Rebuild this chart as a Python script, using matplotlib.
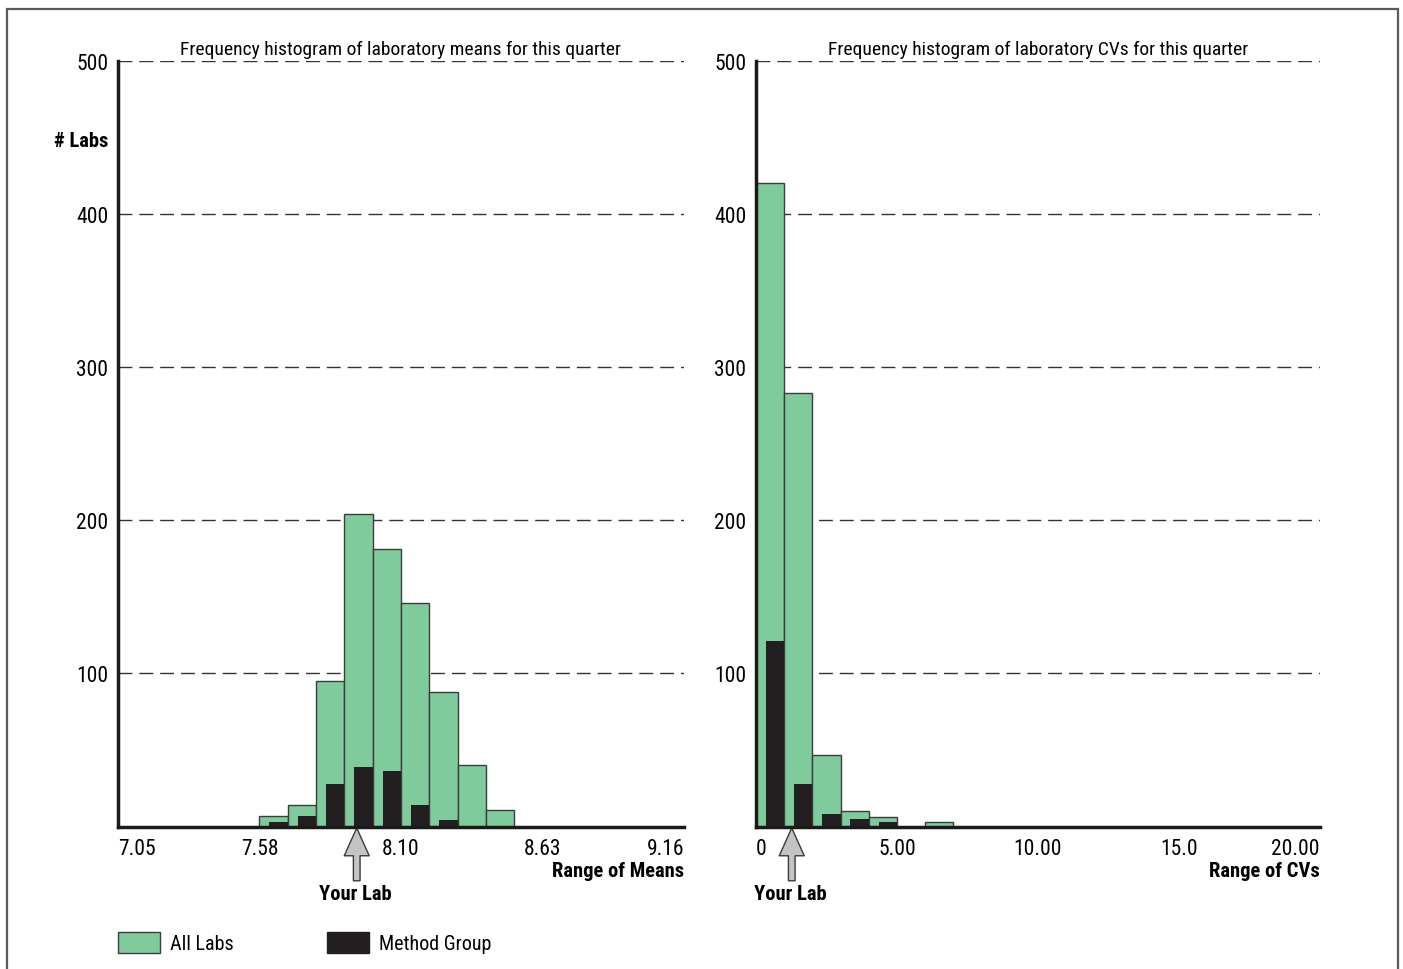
import numpy as np
import matplotlib
matplotlib.use("Agg")
import matplotlib.pyplot as plt
from matplotlib.patches import Patch, Rectangle

plt.rcParams['font.family'] = ['Roboto Condensed', 'Liberation Sans Narrow', 'Roboto', 'DejaVu Sans']

# === Datos ===
mean_range = (7.05, 9.16)
mean_ticklabels = ['7.05', '7.58', '8.10', '8.63', '9.16']
mean_all = [0, 0, 0, 0, 0, 7, 14, 95, 204, 181, 146, 88, 40, 11, 0, 0, 0, 0, 0, 0]
mean_method = [0, 0, 0, 0, 0, 3, 7, 28, 39, 36, 14, 4, 0, 0, 0, 0, 0, 0, 0, 0]
mean_your_lab = 7.94

cv_range = (0.0, 20.0)
cv_ticklabels = ['0', '5.00', '10.00', '15.0', '20.00']
cv_all = [420, 283, 47, 10, 6, 0, 3, 0, 0, 0, 0, 0, 0, 0, 0, 0, 0, 0, 0, 0]
cv_method = [121, 28, 8, 5, 3, 0, 0, 0, 0, 0, 0, 0, 0, 0, 0, 0, 0, 0, 0, 0]
cv_your_lab = 1.27

y_ticks = [100, 200, 300, 400, 500]

GREEN = '#80cb9b'
BLACK = '#231f20'
EDGE = '#3c3c3c'

fig = plt.figure(figsize=(14.03, 9.70), dpi=100)

# marco gris
fig.add_artist(Rectangle((0.005, -0.02), 0.9915, 1.0097, transform=fig.transFigure,
                         fill=False, edgecolor='#5a5a5a', linewidth=1.6))


def histograma(ax, rango, all_labs, method, ticklabels, your_lab, titulo, xlabel, ylabel=None):
    edges = np.linspace(rango[0], rango[1], len(all_labs) + 1)
    w = edges[1] - edges[0]
    for i, h in enumerate(all_labs):
        if h > 0:
            ax.bar(edges[i], h, width=w, align='edge', color=GREEN,
                   edgecolor=EDGE, linewidth=1.0, zorder=2)
    for i, h in enumerate(method):
        if h > 0:
            ax.bar(edges[i] + 0.35 * w, h, width=0.65 * w, align='edge',
                   color=BLACK, linewidth=0, zorder=3)

    for y in y_ticks:
        ax.axhline(y, color='#333333', linewidth=1.0, dashes=(10, 5), zorder=1)

    ax.set_xlim(*rango)
    ax.set_ylim(0, 500)
    for s in ['top', 'right']:
        ax.spines[s].set_visible(False)
    for s in ['left', 'bottom']:
        ax.spines[s].set_linewidth(2.5)
        ax.spines[s].set_color('#1a1a1a')
        ax.spines[s].set_zorder(5)

    ax.set_yticks(y_ticks)
    ax.set_yticklabels([str(y) for y in y_ticks], fontsize=15.5)
    ax.tick_params(axis='y', length=0, pad=7)

    ticks = np.linspace(rango[0], rango[1], len(ticklabels))
    ax.set_xticks(ticks)
    ax.set_xticklabels(ticklabels, fontsize=15.5)
    ax.tick_params(axis='x', length=0, pad=8.5)
    labs = ax.get_xticklabels()
    labs[0].set_ha('left')
    labs[-1].set_ha('right')

    ax.set_title(titulo, fontsize=14, pad=5)

    ax.annotate(xlabel, xy=(1, 0), xycoords='axes fraction', xytext=(0, -31.5),
                textcoords='offset points', ha='right', va='center',
                fontsize=14.8, fontweight='bold')
    if ylabel:
        ax.text(-0.0177, 448, ylabel, transform=ax.get_yaxis_transform(),
                ha='right', va='center', fontsize=14.8, fontweight='bold')

    # flecha "Your Lab"
    ax.annotate('', xy=(your_lab, 0), xycoords='data', xytext=(0, -39),
                textcoords='offset points', annotation_clip=False,
                arrowprops=dict(arrowstyle='simple,head_length=1.0,head_width=0.9,tail_width=0.24',
                                mutation_scale=20, facecolor='#c4c4c4', edgecolor='#3a3a3a',
                                linewidth=1.0, shrinkA=0, shrinkB=1))
    ax.annotate('Your Lab', xy=(your_lab, 0), xycoords='data', xytext=(-1, -48.5),
                textcoords='offset points', ha='center', va='center',
                fontsize=14.8, fontweight='bold', annotation_clip=False)


ax1 = fig.add_axes([0.0841, 0.1468, 0.4034, 0.7893])
ax2 = fig.add_axes([0.5388, 0.1468, 0.4020, 0.7893])

histograma(ax1, mean_range, mean_all, mean_method, mean_ticklabels, mean_your_lab,
           'Frequency histogram of laboratory means for this quarter', 'Range of Means', '# Labs')
histograma(ax2, cv_range, cv_all, cv_method, cv_ticklabels, cv_your_lab,
           'Frequency histogram of laboratory CVs for this quarter', 'Range of CVs')

handles = [Patch(facecolor=GREEN, edgecolor=EDGE, linewidth=1.0, label='All Labs'),
           Patch(facecolor=BLACK, edgecolor=BLACK, linewidth=1.0, label='Method Group')]
fig.legend(handles=handles, loc='lower left', bbox_to_anchor=(0.0841, 0.016), ncol=2,
           frameon=False, fontsize=14.5, handlelength=2.1, handleheight=1.2,
           handletextpad=0.5, columnspacing=4.6, borderpad=0, borderaxespad=0)

fig.savefig('out.png', dpi=100)
